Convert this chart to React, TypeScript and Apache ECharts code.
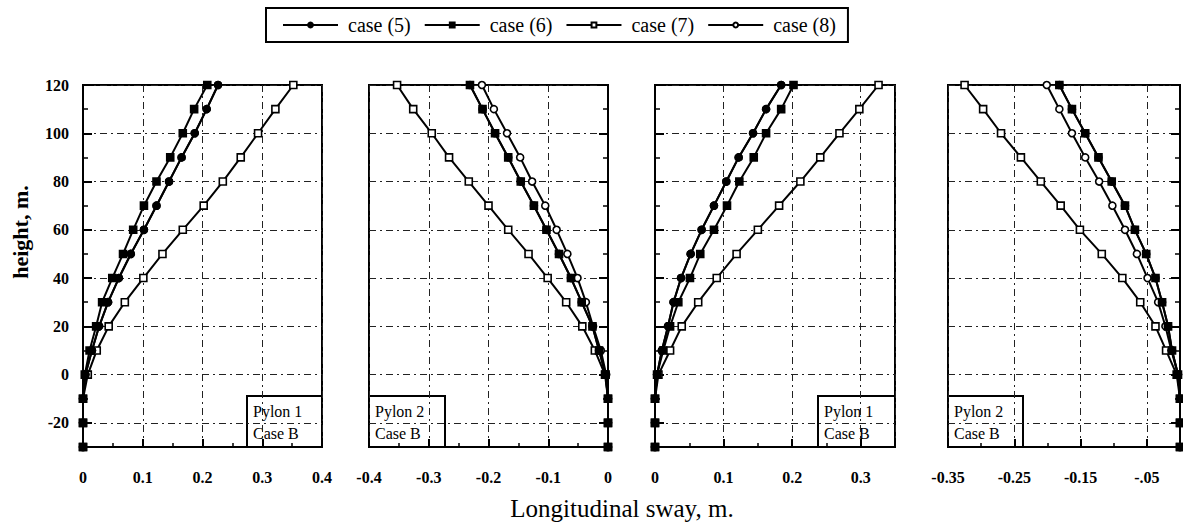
import { useEffect, useRef } from "react";
import * as echarts from "echarts";

// Heights along the pylon (m), shared by every series
const heights = [120, 110, 100, 90, 80, 70, 60, 50, 40, 30, 20, 10, 0, -10, -20, -30];
const caseNames = ["case (5)", "case (6)", "case (7)", "case (8)"];

// Panel 1 — Pylon 1, Case B
const p1Case5 = [0.226, 0.207, 0.187, 0.165, 0.144, 0.123, 0.102, 0.08, 0.06, 0.042, 0.027, 0.015, 0.004, 0, 0, 0];
const p1Case6 = [0.208, 0.186, 0.167, 0.146, 0.123, 0.102, 0.084, 0.067, 0.049, 0.032, 0.022, 0.011, 0.003, 0, 0, 0];
const p1Case7 = [0.352, 0.322, 0.293, 0.264, 0.234, 0.202, 0.167, 0.133, 0.101, 0.07, 0.043, 0.023, 0.008, 0, 0, 0];
const p1Case8 = [0.226, 0.207, 0.187, 0.165, 0.144, 0.123, 0.102, 0.08, 0.06, 0.042, 0.027, 0.015, 0.004, 0, 0, 0];

// Panel 2 — Pylon 2, Case B
const p2Case5 = [-0.231, -0.21, -0.189, -0.167, -0.146, -0.124, -0.103, -0.082, -0.062, -0.044, -0.026, -0.015, -0.004, 0, 0, 0];
const p2Case6 = [-0.231, -0.21, -0.189, -0.167, -0.146, -0.124, -0.103, -0.082, -0.062, -0.044, -0.026, -0.015, -0.004, 0, 0, 0];
const p2Case7 = [-0.353, -0.326, -0.295, -0.266, -0.233, -0.2, -0.167, -0.133, -0.101, -0.07, -0.043, -0.022, -0.005, 0, 0, 0];
const p2Case8 = [-0.211, -0.191, -0.169, -0.147, -0.127, -0.105, -0.086, -0.068, -0.051, -0.037, -0.025, -0.012, -0.003, 0, 0, 0];

// Panel 3 — Pylon 1, Case B
const p3Case5 = [0.184, 0.162, 0.143, 0.122, 0.104, 0.086, 0.068, 0.052, 0.038, 0.027, 0.019, 0.01, 0.003, 0, 0, 0];
const p3Case6 = [0.202, 0.184, 0.162, 0.144, 0.123, 0.105, 0.086, 0.066, 0.051, 0.034, 0.022, 0.012, 0.003, 0, 0, 0];
const p3Case7 = [0.326, 0.298, 0.269, 0.241, 0.212, 0.181, 0.15, 0.119, 0.09, 0.063, 0.039, 0.022, 0.005, 0, 0, 0];
const p3Case8 = [0.184, 0.162, 0.143, 0.122, 0.104, 0.086, 0.068, 0.052, 0.038, 0.027, 0.019, 0.01, 0.003, 0, 0, 0];

// Panel 4 — Pylon 2, Case B
const p4Case5 = [-0.182, -0.163, -0.143, -0.123, -0.103, -0.083, -0.068, -0.051, -0.037, -0.027, -0.018, -0.012, -0.003, 0, 0, 0];
const p4Case6 = [-0.182, -0.163, -0.143, -0.123, -0.103, -0.083, -0.068, -0.051, -0.037, -0.027, -0.018, -0.012, -0.003, 0, 0, 0];
const p4Case7 = [-0.325, -0.297, -0.27, -0.24, -0.21, -0.18, -0.151, -0.118, -0.087, -0.06, -0.037, -0.021, -0.005, 0, 0, 0];
const p4Case8 = [-0.201, -0.182, -0.163, -0.143, -0.122, -0.102, -0.083, -0.065, -0.049, -0.033, -0.022, -0.013, -0.003, 0, 0, 0];

// Tick labels of each panel's x axis, in tick order
const p1XLabels = ["0", "0.1", "0.2", "0.3", "0.4"];
const p2XLabels = ["-0.4", "-0.3", "-0.2", "-0.1", "0"];
const p3XLabels = ["0", "0.1", "0.2", "0.3", ""];
const p4XLabels = ["-0.35", "-0.25", "-0.15", "-.05", ""];

const panelLabels = ["Pylon 1\nCase B", "Pylon 2\nCase B", "Pylon 1\nCase B", "Pylon 2\nCase B"];

const SERIF = '"Liberation Serif", "Times New Roman", serif';

type Panel = {
  left: number;
  width: number;
  min: number;
  max: number;
  yPos: "left" | "right";
  values: number[][];
  xLabels: string[];
  label: string;
  box: { x: number; w: number };
};

const panels: Panel[] = [
  { left: 83, width: 239, min: 0, max: 0.4, yPos: "left", values: [p1Case5, p1Case6, p1Case7, p1Case8], xLabels: p1XLabels, label: panelLabels[0], box: { x: 247, w: 75 } },
  { left: 369, width: 239, min: -0.4, max: 0, yPos: "right", values: [p2Case5, p2Case6, p2Case7, p2Case8], xLabels: p2XLabels, label: panelLabels[1], box: { x: 369, w: 76 } },
  { left: 655, width: 240, min: 0, max: 0.35, yPos: "left", values: [p3Case5, p3Case6, p3Case7, p3Case8], xLabels: p3XLabels, label: panelLabels[2], box: { x: 818, w: 77 } },
  { left: 948, width: 234, min: -0.35, max: 0, yPos: "right", values: [p4Case5, p4Case6, p4Case7, p4Case8], xLabels: p4XLabels, label: panelLabels[3], box: { x: 948, w: 75 } },
];

const GRID_TOP = 85;
const GRID_HEIGHT = 362;

// marker look for case (5)…(8)
const markers = [
  { symbol: "circle", fill: "#000", z: 4 },
  { symbol: "rect", fill: "#000", z: 3 },
  { symbol: "rect", fill: "#fff", z: 1 },
  { symbol: "circle", fill: "#fff", z: 2 },
];

const dashDot = [7, 4, 2, 4];

export default function App() {
  const ref = useRef<HTMLDivElement>(null);

  useEffect(() => {
    if (!ref.current) return;
    const chart = echarts.init(ref.current, null, { renderer: "svg" });

    const grid = panels.map((p) => ({
      left: p.left,
      top: GRID_TOP,
      width: p.width,
      height: GRID_HEIGHT,
      show: true,
      borderColor: "#000",
      borderWidth: 2,
      backgroundColor: "transparent",
    }));

    const xAxis = panels.map((p, i) => ({
      type: "value",
      gridIndex: i,
      min: p.min,
      max: p.max,
      interval: 0.1,
      axisLine: { show: true, onZero: false, lineStyle: { color: "#000", width: 2 } },
      axisTick: { show: true, inside: true, length: 8, lineStyle: { color: "#000", width: 2 } },
      minorTick: { show: true, splitNumber: 2, length: 4, lineStyle: { color: "#000", width: 1.5 } },
      splitLine: { show: true, lineStyle: { color: "#222", width: 1, type: dashDot } },
      axisLabel: {
        margin: 22,
        color: "#000",
        fontFamily: SERIF,
        fontWeight: "bold",
        fontSize: 16,
        hideOverlap: false,
        showMinLabel: true,
        showMaxLabel: true,
        formatter: (_v: number, idx: number) => p.xLabels[idx] ?? "",
      },
    }));

    const yAxis = panels.map((p, i) => ({
      type: "value",
      gridIndex: i,
      min: -30,
      max: 120,
      splitNumber: 7,
      position: p.yPos,
      axisLine: { show: true, onZero: false, lineStyle: { color: "#000", width: 2 } },
      axisTick: { show: true, inside: true, length: 9, lineStyle: { color: "#000", width: 2 } },
      minorTick: { show: true, splitNumber: 2, length: 5, lineStyle: { color: "#000", width: 1.5 } },
      splitLine: { show: true, lineStyle: { color: "#222", width: 1, type: dashDot } },
      axisLabel: {
        show: i === 0,
        showMinLabel: false,
        margin: 14,
        color: "#000",
        fontFamily: SERIF,
        fontWeight: "bold",
        fontSize: 16,
      },
    }));

    const series: any[] = [];
    panels.forEach((p, i) => {
      p.values.forEach((vals, c) => {
        const m = markers[c];
        series.push({
          type: "line",
          name: caseNames[c],
          xAxisIndex: i,
          yAxisIndex: i,
          data: heights.map((h, k) => [vals[k], h]),
          symbol: m.symbol,
          symbolSize: 7,
          showAllSymbol: true,
          z: m.z,
          silent: true,
          lineStyle: { color: "#000", width: 2 },
          itemStyle: { color: m.fill, borderColor: "#000", borderWidth: 1.6 },
        });
      });
    });

    const graphic: any[] = panels.map((p) => ({
      type: "group",
      x: p.box.x,
      y: 396,
      z: 100,
      children: [
        {
          type: "rect",
          shape: { x: 0, y: 0, width: p.box.w, height: GRID_TOP + GRID_HEIGHT - 396 },
          style: { fill: "#fff", stroke: "#000", lineWidth: 2 },
        },
        {
          type: "text",
          x: 6,
          y: 4,
          style: { text: p.label, font: `16px ${SERIF}`, lineHeight: 22, fill: "#000" },
        },
      ],
    }));
    graphic.push(
      {
        type: "text",
        x: 622,
        y: 508,
        style: {
          text: "Longitudinal sway, m.",
          font: `25px ${SERIF}`,
          fill: "#000",
          align: "center",
          verticalAlign: "middle",
        },
      },
      {
        type: "text",
        x: 20,
        y: 232,
        rotation: Math.PI / 2,
        style: {
          text: "height, m.",
          font: `bold 22px ${SERIF}`,
          fill: "#000",
          align: "center",
          verticalAlign: "middle",
        },
      }
    );

    chart.setOption({
      animation: false,
      backgroundColor: "#fff",
      grid,
      xAxis,
      yAxis,
      series,
      graphic,
      legend: {
        data: caseNames,
        left: 266,
        top: 8,
        padding: [5, 12, 5, 16],
        borderColor: "#000",
        borderWidth: 2,
        itemWidth: 55,
        itemHeight: 6,
        itemGap: 13,
        selectedMode: false,
        textStyle: { fontFamily: SERIF, fontSize: 20, lineHeight: 24, color: "#000", padding: [0, 0, 0, 5] },
      },
    });

    return () => chart.dispose();
  }, []);

  return (
    <div
      ref={ref}
      style={{ position: "absolute", left: 0, top: 0, width: 1183, height: 526, background: "#fff" }}
    />
  );
}
